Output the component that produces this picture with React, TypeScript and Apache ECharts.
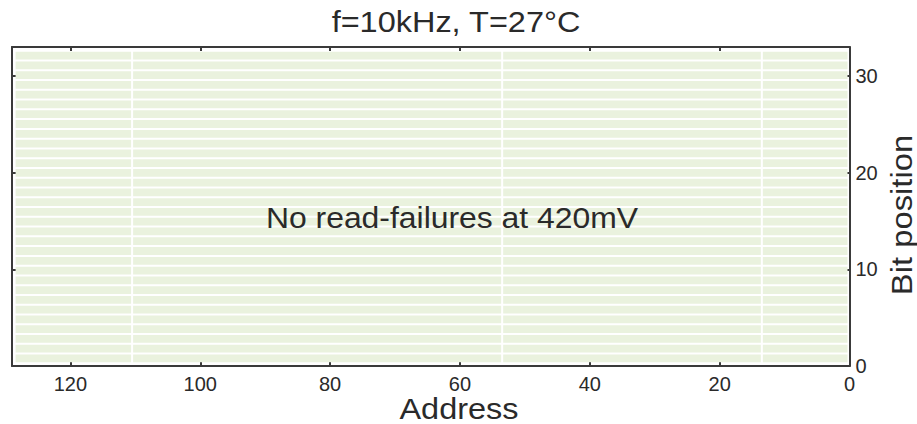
import React, { useEffect, useRef } from "react";
import * as echarts from "echarts";

// Address blocks (column edges along the address axis)
const addressEdges = [0.15, 13.5, 53.5, 110.5, 128.6];
// Bit rows of the word
const bitPositions = [
  0, 1, 2, 3, 4, 5, 6, 7, 8, 9, 10, 11, 12, 13, 14, 15,
  16, 17, 18, 19, 20, 21, 22, 23, 24, 25, 26, 27, 28, 29, 30, 31,
];
// Read-failure count per address block (one entry per block, same for every bit)
const failuresPerBlock = [0, 0, 0, 0];

const xTicks = [0, 20, 40, 60, 80, 100, 120];
const yTicks = [0, 10, 20, 30];

const titleText = "f=10kHz, T=27°C";
const noteText = "No read-failures at 420mV";
const xName = "Address";
const yName = "Bit position";

const FONT = "'Liberation Sans', Arial, Helvetica, sans-serif";
const INK = "#2a2a2a";
const FRAME = "#3a3a3a";
const PASS = "#eaf2de";
const FAIL = "#d9534f";

export default function App() {
  const ref = useRef<HTMLDivElement>(null);

  useEffect(() => {
    if (!ref.current) return;
    const chart = echarts.init(ref.current, undefined, { renderer: "svg" });

    const cells: number[][] = [];
    for (let i = 0; i < addressEdges.length - 1; i++) {
      for (const b of bitPositions) {
        cells.push([addressEdges[i], addressEdges[i + 1], b, failuresPerBlock[i]]);
      }
    }

    const xStep = xTicks[1] - xTicks[0];
    const yStep = yTicks[1] - yTicks[0];

    const frameAxis = {
      axisLine: { show: true, onZero: false, lineStyle: { color: FRAME, width: 2 } },
      axisTick: { show: true, inside: true, length: 4, lineStyle: { color: FRAME, width: 2 } },
      splitLine: { show: false },
    };
    const tickLabel = {
      color: INK,
      fontSize: 20,
      fontFamily: FONT,
      showMaxLabel: false,
    };

    chart.setOption({
      animation: false,
      backgroundColor: "#ffffff",
      grid: { left: 12, right: 67.5, top: 47, bottom: 58, containLabel: false },
      xAxis: [
        {
          type: "value",
          position: "bottom",
          inverse: true,
          min: xTicks[0],
          max: 129,
          interval: xStep,
          ...frameAxis,
          axisLabel: { ...tickLabel, margin: 8 },
        },
        {
          type: "value",
          position: "top",
          inverse: true,
          min: xTicks[0],
          max: 129,
          interval: xStep,
          ...frameAxis,
          axisLabel: { show: false },
        },
      ],
      yAxis: [
        {
          type: "value",
          position: "right",
          min: yTicks[0],
          max: 33,
          interval: yStep,
          ...frameAxis,
          axisLabel: { ...tickLabel, margin: 6 },
        },
        {
          type: "value",
          position: "left",
          min: yTicks[0],
          max: 33,
          interval: yStep,
          ...frameAxis,
          axisLabel: { show: false },
        },
        {
          // row layout axis for the bit cells
          type: "value",
          show: false,
          min: -0.27,
          max: 32.38,
        },
      ],
      series: [
        {
          type: "custom",
          xAxisIndex: 0,
          yAxisIndex: 2,
          data: cells,
          renderItem: (_params: any, api: any) => {
            const a0 = api.value(0);
            const a1 = api.value(1);
            const b = api.value(2);
            const fails = api.value(3);
            const p0 = api.coord([a0, b]);
            const p1 = api.coord([a1, b + 1]);
            const x = Math.min(p0[0], p1[0]) + 1;
            const y = Math.min(p0[1], p1[1]) + 1;
            const w = Math.abs(p1[0] - p0[0]) - 2;
            const h = Math.abs(p1[1] - p0[1]) - 2;
            return {
              type: "rect",
              shape: { x, y, width: w, height: h },
              style: { fill: fails > 0 ? FAIL : PASS },
            };
          },
        },
      ],
      graphic: [
        {
          type: "text",
          x: 456,
          y: 22,
          scaleX: 1.12,
          style: {
            text: titleText,
            fontSize: 29,
            fontFamily: FONT,
            fill: INK,
            align: "center",
            verticalAlign: "middle",
          },
        },
        {
          type: "text",
          x: 452,
          y: 218,
          scaleX: 1.1,
          z: 10,
          style: {
            text: noteText,
            fontSize: 29,
            fontFamily: FONT,
            fill: INK,
            align: "center",
            verticalAlign: "middle",
          },
        },
        {
          type: "text",
          x: 459,
          y: 409,
          scaleX: 1.12,
          style: {
            text: xName,
            fontSize: 29,
            fontFamily: FONT,
            fill: INK,
            align: "center",
            verticalAlign: "middle",
          },
        },
        {
          type: "text",
          x: 902,
          y: 215,
          rotation: Math.PI / 2,
          scaleX: 1.13,
          style: {
            text: yName,
            fontSize: 29,
            fontFamily: FONT,
            fill: INK,
            align: "center",
            verticalAlign: "middle",
          },
        },
      ],
    });

    return () => chart.dispose();
  }, []);

  return (
    <div
      ref={ref}
      style={{ position: "fixed", left: 0, top: 0, width: 917, height: 424 }}
    />
  );
}
